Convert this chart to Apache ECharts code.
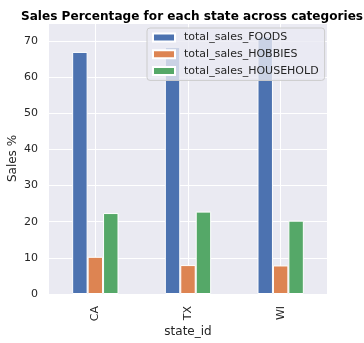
<!DOCTYPE html>
<html>
<head>
<meta charset="utf-8">
<script src="https://cdn.jsdelivr.net/npm/echarts@6/dist/echarts.min.js"></script>
<style>
  html, body { margin: 0; padding: 0; background: #ffffff; }
  #chart { width: 364px; height: 343px; }
</style>
</head>
<body>
<div id="chart"></div>
<script>
// Share of sales (%) per state, split by product category
const states = ['CA', 'TX', 'WI'];
const seriesNames = ['total_sales_FOODS', 'total_sales_HOBBIES', 'total_sales_HOUSEHOLD'];
const foods = [67.0, 68.4, 71.3];
const hobbies = [10.3, 8.0, 7.9];
const household = [22.4, 22.8, 20.3];
const colors = ['#4c72b0', '#dd8452', '#55a868'];

const FONT = 'DejaVu Sans';
const TEXT = '#262626';

const values = [foods, hobbies, household];

const chart = echarts.init(document.getElementById('chart'), null, { renderer: 'canvas' });

chart.setOption({
  animation: false,
  backgroundColor: '#ffffff',
  textStyle: { fontFamily: FONT },
  title: {
    text: 'Sales Percentage for each state across categories',
    left: 187,
    top: 6,
    textAlign: 'center',
    textStyle: { fontFamily: FONT, fontSize: 12.1, fontWeight: 'bold', color: '#000000' }
  },
  grid: {
    left: 49, right: 37, top: 23, bottom: 49,
    outerBoundsMode: 'none',
    containLabel: false,
    show: true, backgroundColor: '#eaeaf2', borderWidth: 0
  },
  legend: {
    data: seriesNames,
    orient: 'vertical',
    left: 147,
    top: 28,
    icon: 'rect',
    itemWidth: 22,
    itemHeight: 8,
    itemGap: 3.7,
    padding: [3, 6, 3, 5],
    backgroundColor: 'rgba(234,234,242,0.8)',
    borderColor: '#cccccc',
    borderWidth: 1,
    borderRadius: 3,
    textStyle: { fontFamily: FONT, fontSize: 11, color: TEXT, lineHeight: 13, padding: [0, 0, 0, 4] }
  },
  xAxis: {
    type: 'category',
    data: states,
    name: 'state_id',
    nameLocation: 'middle',
    nameGap: 32,
    nameMoveOverlap: false,
    nameTextStyle: { fontFamily: FONT, fontSize: 12, color: TEXT },
    axisLine: { show: false },
    axisTick: { show: false, alignWithLabel: true },
    axisLabel: { rotate: 90, margin: 12, fontFamily: FONT, fontSize: 11, color: TEXT },
    splitLine: { show: true, alignWithLabel: true, lineStyle: { color: '#ffffff', width: 1 } }
  },
  yAxis: {
    type: 'value',
    min: 0,
    max: 75,
    interval: 10,
    name: 'Sales %',
    nameLocation: 'middle',
    nameGap: 30,
    nameMoveOverlap: false,
    nameTextStyle: { fontFamily: FONT, fontSize: 12, color: TEXT },
    axisLine: { show: false },
    axisTick: { show: false },
    axisLabel: { margin: 11, fontFamily: FONT, fontSize: 11, color: TEXT, showMaxLabel: false },
    splitLine: { show: true, lineStyle: { color: '#ffffff', width: 1 } }
  },
  series: seriesNames.map((name, i) => ({
    name: name,
    type: 'bar',
    data: values[i],
    barGap: '0%',
    barCategoryGap: '50%',
    itemStyle: { color: colors[i], borderColor: '#ffffff', borderWidth: 1 }
  }))
});
</script>
</body>
</html>
